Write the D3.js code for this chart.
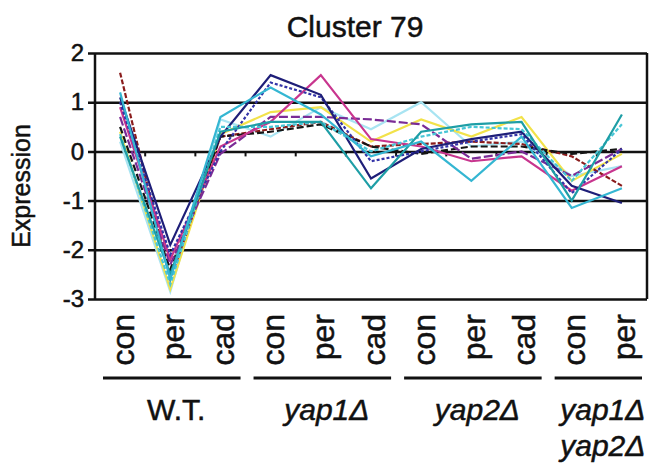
<!DOCTYPE html>
<html>
<head>
<meta charset="utf-8">
<script src="https://cdn.jsdelivr.net/npm/d3@7"></script>
<style>
  body { margin: 0; background: #fff; }
  text { font-family: "Liberation Sans", Arial, sans-serif; fill: #111; stroke: #111; stroke-width: 0.5px; }
</style>
</head>
<body>
<svg width="650" height="463"></svg>
<script>
// conditions along the x axis
var conditions = ["con", "per", "cad", "con", "per", "cad", "con", "per", "cad", "con", "per"];
var groups = ["W.T.", "yap1Δ", "yap2Δ", "yap1Δ\nyap2Δ"];
var groupSizes = [3, 3, 3, 2];
var yTicks = [2, 1, 0, -1, -2, -3];

// one array per gene profile
var maroon    = [1.6, -2.6, 0.3, 0.45, 0.6, 0.1, 0.15, 0.2, 0.15, -0.1, -0.7];
var navy      = [1.1, -1.9, 0.3, 1.55, 1.15, -0.55, 0.05, 0.25, 0.4, -0.7, -1.05];
var blue      = [1.0, -2.1, 0.0, 1.4, 1.1, -0.2, 0.0, 0.2, 0.35, -0.85, 0.05];
var magenta   = [0.9, -2.2, 0.1, 0.6, 1.55, 0.25, 0.1, -0.2, -0.1, -0.8, -0.3];
var purple    = [0.7, -2.3, -0.05, 0.7, 0.7, 0.65, 0.55, -0.15, 0.0, -0.5, 0.05];
var yellow    = [0.4, -2.8, 0.35, 0.8, 0.9, 0.2, 0.65, 0.3, 0.7, -0.6, -0.05];
var cyan      = [1.2, -2.6, 0.7, 1.3, 0.75, -0.1, 0.2, -0.6, 0.3, -1.15, -0.75];
var lightCyan = [0.2, -2.85, 0.65, 0.3, 0.9, 0.45, 1.0, 0.1, 0.2, -0.5, -0.3];
var teal      = [0.3, -2.5, 0.4, 0.6, 0.6, -0.75, 0.4, 0.55, 0.6, -1.0, 0.75];
var black     = [0.5, -2.4, 0.3, 0.4, 0.55, 0.1, -0.05, 0.1, 0.1, -0.05, 0.05];
var turquoise = [0.35, -2.7, 0.5, 0.5, 0.6, 0.0, 0.3, 0.5, 0.45, -0.6, 0.55];

var series = [
    { values: lightCyan, color: "#a8e4f2", dash: null },
    { values: yellow,    color: "#f2e24a", dash: null },
    { values: maroon,    color: "#8a1c1c", dash: "5,2" },
    { values: black,     color: "#151515", dash: "7,3" },
    { values: purple,    color: "#7a2c96", dash: "9,3" },
    { values: magenta,   color: "#c8358e", dash: null },
    { values: blue,      color: "#3434a8", dash: "3,2" },
    { values: navy,      color: "#1e1e78", dash: null },
    { values: turquoise, color: "#48c6d6", dash: "4,2" },
    { values: teal,      color: "#1e9ea6", dash: null },
    { values: cyan,      color: "#34b6d2", dash: null }
];

var svg = d3.select("svg"),
    plotLeft = 95, plotRight = 647, plotTop = 53, plotBottom = 299;

var x = d3.scaleBand().domain(d3.range(conditions.length)).range([plotLeft, plotRight]);
var y = d3.scaleLinear().domain([-3, 2]).range([plotBottom, plotTop]);

// gridlines + y labels
svg.append("g")
    .attr("transform", "translate(" + plotLeft + ",0)")
    .call(d3.axisLeft(y).tickValues(yTicks).tickSize(-(plotRight - plotLeft)).tickFormat(function (d) { return String(d); }))
    .call(function (g) {
        g.select(".domain").remove();
        g.selectAll(".tick line").attr("stroke", "#111").attr("stroke-width", 2.5).attr("x1", -7);
        g.selectAll(".tick text").attr("x", -11).style("font-size", "24px")
            .style("font-family", "Liberation Sans, Arial, sans-serif").attr("fill", "#111");
    });

// left and right frame
svg.append("line").attr("x1", plotLeft).attr("x2", plotLeft).attr("y1", plotTop).attr("y2", plotBottom)
    .attr("stroke", "#111").attr("stroke-width", 2.5);
svg.append("line").attr("x1", plotRight).attr("x2", plotRight).attr("y1", plotTop).attr("y2", plotBottom)
    .attr("stroke", "#111").attr("stroke-width", 2.5);

// category ticks on the zero line
svg.selectAll(".ztick")
    .data(d3.range(1, conditions.length))
  .enter().append("line")
    .attr("class", "ztick")
    .attr("x1", function (d) { return x(d); })
    .attr("x2", function (d) { return x(d); })
    .attr("y1", y(0)).attr("y2", y(0) + 5)
    .attr("stroke", "#111").attr("stroke-width", 2);

// profiles
var line = d3.line()
    .x(function (d, i) { return x(i) + x.bandwidth() / 2; })
    .y(function (d) { return y(d); });

svg.append("g").selectAll("path")
    .data(series)
  .enter().append("path")
    .attr("d", function (d) { return line(d.values); })
    .attr("fill", "none")
    .attr("stroke", function (d) { return d.color; })
    .attr("stroke-width", 2.2)
    .attr("stroke-dasharray", function (d) { return d.dash; });

// rotated condition labels
svg.selectAll(".cond")
    .data(conditions)
  .enter().append("text")
    .attr("class", "cond")
    .attr("transform", function (d, i) {
        return "translate(" + (x(i) + x.bandwidth() / 2 + 2) + ",314)rotate(-90)";
    })
    .attr("text-anchor", "end")
    .attr("dy", "0.36em")
    .style("font-size", "32px")
    .text(function (d) { return d; });

// group underlines and names
var start = 0;
groups.forEach(function (name, k) {
    var x0 = x(start), x1 = x(start + groupSizes[k] - 1) + x.bandwidth();
    svg.append("line")
        .attr("x1", x0 + 8).attr("x2", x1 - 5)
        .attr("y1", 378).attr("y2", 378)
        .attr("stroke", "#111").attr("stroke-width", 3);
    var t = svg.append("text")
        .attr("x", (x0 + x1) / 2 + 6)
        .attr("y", 420)
        .attr("text-anchor", "middle")
        .style("font-size", "30px")
        .style("font-style", k === 0 ? "normal" : "italic");
    name.split("\n").forEach(function (part, j) {
        t.append("tspan").attr("x", (x0 + x1) / 2 + 6).attr("dy", j === 0 ? 0 : 36).text(part);
    });
    start += groupSizes[k];
});

// title and y label
svg.append("text")
    .attr("x", 355).attr("y", 37)
    .attr("text-anchor", "middle")
    .style("font-size", "30px")
    .text("Cluster 79");

svg.append("text")
    .attr("transform", "translate(30,186)rotate(-90)")
    .attr("text-anchor", "middle")
    .style("font-size", "25px")
    .text("Expression");
</script>
</body>
</html>
